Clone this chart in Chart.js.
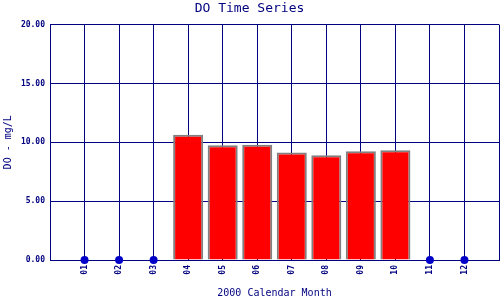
<!DOCTYPE html>
<html><head><meta charset="utf-8">
<script src="https://cdn.jsdelivr.net/npm/chart.js@4/dist/chart.umd.min.js"></script>
<style>html,body{margin:0;padding:0;background:#fff}#wrap{width:500px;height:300px}</style>
</head><body><div id="wrap"><canvas id="c" width="500" height="300"></canvas></div>
<script>
const months = ['01','02','03','04','05','06','07','08','09','10','11','12'];
const doValues = [null,null,null,10.65,9.75,9.8,9.13,8.9,9.24,9.32,null,null];
const yTicks = [0,5,10,15,20];
const navy = '#000080';

const labels = [''].concat(months, ['']);
const barData = [null].concat(doValues, [null]);
const missingData = [null].concat(doValues.map(v => v === null ? 0 : null), [null]);

new Chart(document.getElementById('c'), {
  type: 'bar',
  data: {
    labels: labels,
    datasets: [
      { type:'bar', data: barData, backgroundColor:'#ff0000', borderColor:'#808080', borderWidth:2,
        barPercentage:0.87, categoryPercentage:1, order:2 },
      { type:'line', data: missingData, showLine:false, pointRadius:4, pointBackgroundColor:'#0000c8',
        pointBorderColor:'#0000c8', pointBorderWidth:0, clip:false, order:1 }
    ]
  },
  options: {
    responsive:false, animation:false, devicePixelRatio:1,
    layout:{ autoPadding:false, padding:{ left:0, right:1, top:0, bottom:0 } },
    plugins:{
      legend:{ display:false }, tooltip:{ enabled:false },
      title:{ display:true, text:'DO Time Series', color:navy,
        font:{ family:'DejaVu Sans Mono', size:13, weight:'normal' }, padding:{ top:1, bottom:8 } }
    },
    scales:{
      x:{ offset:false,
        grid:{ color:navy, lineWidth:1, drawTicks:false, offset:false },
        border:{ color:navy, width:1 },
        ticks:{ color:navy, font:{ family:'DejaVu Sans Mono', size:8, weight:'bold' }, maxRotation:90, minRotation:90, padding:5, autoSkip:false },
        title:{ display:true, text:'2000 Calendar Month', color:navy, font:{ family:'DejaVu Sans Mono', size:10 }, padding:{ top:0, bottom:1 } },
        afterFit: s => { s.height = 40; s.paddingLeft = 0; s.paddingRight = 0; }
      },
      y:{ min:0, max:20,
        afterBuildTicks: s => { s.ticks = yTicks.map(v => ({ value:v })); },
        grid:{ color:navy, lineWidth:1, drawTicks:false },
        border:{ color:navy, width:1 },
        ticks:{ color:navy, font:{ family:'DejaVu Sans Mono', size:8, weight:'bold' }, padding:5, callback: v => Number(v).toFixed(2) },
        title:{ display:true, text:'DO - mg/L', color:navy, font:{ family:'DejaVu Sans Mono', size:10 }, padding:{ top:2, bottom:0 } },
        afterFit: s => { s.width = 50; s.paddingTop = 0; s.paddingBottom = 0; }
      }
    }
  }
});
</script></body></html>
